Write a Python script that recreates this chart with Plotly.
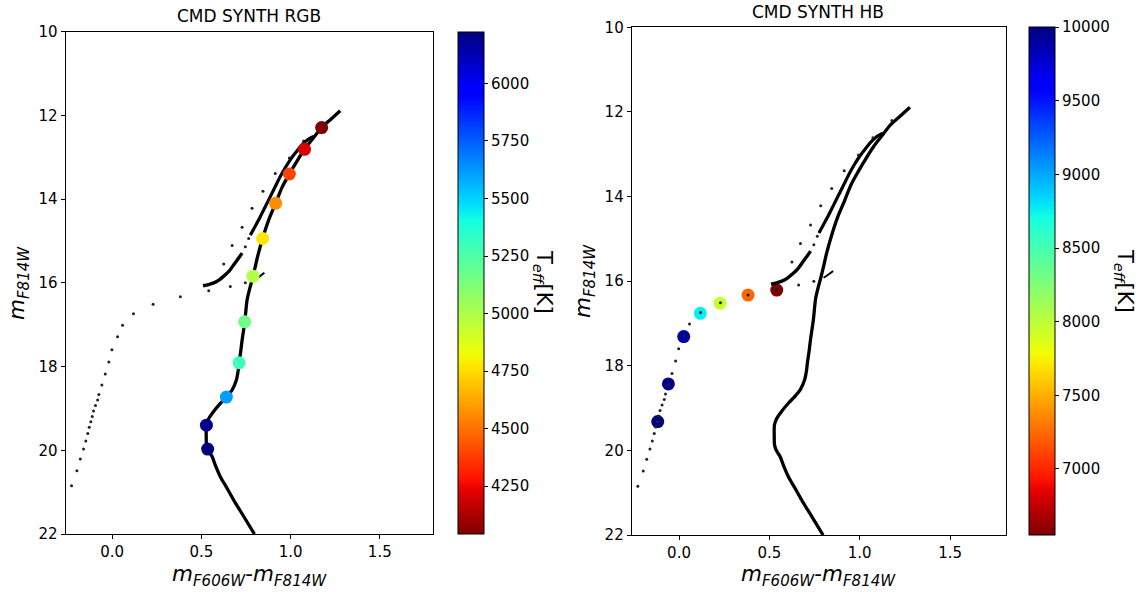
import numpy as np
import plotly.graph_objects as go

W, H = 1143, 592

# ---------------- data ----------------
# main isochrone (MS -> SGB -> RGB)
iso_x = [0.797, 0.740, 0.681, 0.640, 0.606, 0.580, 0.560, 0.545, 0.535, 0.528, 0.527, 0.528,
         0.540, 0.560, 0.606, 0.640, 0.672, 0.696, 0.706, 0.711, 0.720, 0.728, 0.743, 0.756,
         0.770, 0.784, 0.800, 0.815, 0.843, 0.877, 0.916, 0.952, 0.993, 1.036, 1.078, 1.125,
         1.174, 1.226, 1.278]
iso_y = [22.0, 21.6, 21.19, 20.88, 20.63, 20.38, 20.15, 20.05, 19.97, 19.85, 19.68, 19.40,
         19.25, 19.12, 18.88, 18.73, 18.56, 18.32, 18.10, 17.91, 17.65, 17.37, 16.93, 16.41,
         16.15, 15.93, 15.65, 15.37, 14.94, 14.50, 14.10, 13.72, 13.40, 13.09, 12.81, 12.55,
         12.29, 12.09, 11.89]
# lower HB/AGB branch
agb_lo_x = [0.509, 0.540, 0.569, 0.600, 0.625, 0.655, 0.681, 0.705, 0.728]
agb_lo_y = [16.07, 16.04, 16.00, 15.93, 15.84, 15.72, 15.57, 15.43, 15.29]
# upper AGB branch
agb_hi_x = [0.774, 0.800, 0.830, 0.858, 0.886, 0.914, 0.942, 0.970, 0.998, 1.030, 1.060, 1.095, 1.128]
agb_hi_y = [14.86, 14.66, 14.42, 14.18, 13.94, 13.70, 13.46, 13.25, 13.06, 12.88, 12.72, 12.58, 12.50]
# small spur
spur_x = [0.800, 0.825, 0.853]
spur_y = [15.92, 15.85, 15.76]
# sparse AGB dots
agbdot_x = [0.662, 0.746, 0.625, 0.672, 0.728, 0.746, 0.765, 0.784, 0.845, 0.914, 0.993, 1.073, 1.178]
agbdot_y = [16.09, 16.00, 15.55, 15.11, 14.67, 15.14, 14.94, 14.22, 13.81, 13.39, 13.02, 12.61, 12.20]
# sparse HB dots
hbdot_x = [0.541, 0.382, 0.229, 0.119, 0.058, 0.030, -0.002, -0.019, -0.039, -0.058, -0.075,
           -0.082, -0.094, -0.105, -0.112, -0.120, -0.129, -0.137, -0.148, -0.161, -0.179,
           -0.198, -0.228]
hbdot_y = [16.19, 16.33, 16.51, 16.74, 17.01, 17.29, 17.60, 17.89, 18.18, 18.44, 18.67,
           18.80, 18.93, 19.06, 19.19, 19.32, 19.45, 19.60, 19.78, 19.97, 20.21, 20.49, 20.85]
# RGB synthetic stars
rgb_x = [1.174, 1.078, 0.993, 0.916, 0.843, 0.789, 0.743, 0.711, 0.640, 0.528, 0.535]
rgb_y = [12.29, 12.81, 13.40, 14.10, 14.94, 15.84, 16.93, 17.91, 18.73, 19.40, 19.97]
rgb_teff = [4043, 4217, 4398, 4566, 4769, 4987, 5170, 5299, 5613, 6190, 6224]
# HB synthetic stars
hb_x = [0.541, 0.382, 0.227, 0.118, 0.026, -0.059, -0.118]
hb_y = [16.21, 16.33, 16.52, 16.76, 17.31, 18.43, 19.32]
hb_teff = [6550, 7233, 7958, 8758, 9900, 9960, 10000]

xticks = [0.0, 0.5, 1.0, 1.5]
yticks = [10, 12, 14, 16, 18, 20, 22]

# ---------------- matplotlib "jet_r" colorscale ----------------
_r = ([0, 0.35, 0.66, 0.89, 1], [0, 0, 1, 1, 0.5])
_g = ([0, 0.125, 0.375, 0.64, 0.91, 1], [0, 0, 1, 1, 0, 0])
_b = ([0, 0.11, 0.34, 0.65, 1], [0.5, 1, 1, 0, 0])
jet_r = []
for t in np.linspace(0, 1, 65):
    s = 1 - t
    r = np.interp(s, *_r); g = np.interp(s, *_g); b = np.interp(s, *_b)
    jet_r.append([float(t), f"rgb({int(r*255)},{int(g*255)},{int(b*255)})"])

FONT = "DejaVu Sans"
TICK = 15

def px(v):
    return v / W

def py(v):
    return 1 - v / H

fig = go.Figure()

def lines(xa, ya):
    for xs, ys, w in [(iso_x, iso_y, 3.3), (agb_lo_x, agb_lo_y, 3.4),
                      (agb_hi_x, agb_hi_y, 3.2), (spur_x, spur_y, 2)]:
        fig.add_trace(go.Scatter(x=xs, y=ys, mode="lines", xaxis=xa, yaxis=ya,
                                 line=dict(color="black", width=w, shape="spline", smoothing=0.8),
                                 showlegend=False, hoverinfo="skip"))

def dots(xa, ya):
    fig.add_trace(go.Scatter(x=hbdot_x + agbdot_x, y=hbdot_y + agbdot_y, mode="markers",
                             xaxis=xa, yaxis=ya,
                             marker=dict(color="#222222", size=3, line=dict(width=0)),
                             showlegend=False, hoverinfo="skip"))

def stars(xa, ya, xs, ys, cs, cb):
    fig.add_trace(go.Scatter(x=xs, y=ys, mode="markers", xaxis=xa, yaxis=ya,
                             marker=dict(color=cs, colorscale=jet_r, cmin=min(cs), cmax=max(cs),
                                         size=13, line=dict(width=0), showscale=True,
                                         colorbar=cb),
                             showlegend=False))

cb_common = dict(xanchor="left", yanchor="middle", lenmode="pixels", thicknessmode="pixels",
                 xpad=0, ypad=0, outlinewidth=1, outlinecolor="black", ticks="outside",
                 ticklen=4, tickcolor="black", tickformat="d",
                 tickfont=dict(size=TICK, family=FONT, color="black"))

cb1 = dict(cb_common, x=px(457.7), y=py((31.7 + 534) / 2), len=534 - 31.7, thickness=25.6,
           tick0=4250, dtick=250)
cb2 = dict(cb_common, x=px(1029.3), y=py((27.3 + 535) / 2), len=535 - 27.3, thickness=25.7,
           tick0=7000, dtick=500)

# left panel: dots, lines, stars on top
dots("x", "y")
lines("x", "y")
stars("x", "y", rgb_x, rgb_y, rgb_teff, cb1)
# right panel: stars, then lines and dots on top
stars("x2", "y2", hb_x, hb_y, hb_teff, cb2)
lines("x2", "y2")
dots("x2", "y2")

ax_common = dict(showgrid=False, zeroline=False, showline=True, mirror=True, linecolor="black",
                 linewidth=1, ticks="outside", ticklen=4, tickcolor="black", automargin=False,
                 tickfont=dict(size=TICK, family=FONT, color="black"))

fig.update_layout(
    width=W, height=H, margin=dict(l=0, r=0, t=0, b=0, autoexpand=False),
    paper_bgcolor="white", plot_bgcolor="white",
    xaxis=dict(ax_common, domain=[px(65.5), px(433.3)], range=[-0.262, 1.80],
               tickvals=xticks, ticktext=[f"{v:.1f}" for v in xticks], anchor="y"),
    yaxis=dict(ax_common, domain=[py(534), py(31.7)], range=[22, 10],
               tickvals=yticks, anchor="x"),
    xaxis2=dict(ax_common, domain=[px(631.7), px(1005.7)], range=[-0.262, 1.808],
                tickvals=xticks, ticktext=[f"{v:.1f}" for v in xticks], anchor="y2"),
    yaxis2=dict(ax_common, domain=[py(535), py(27.3)], range=[22, 10],
                tickvals=yticks, anchor="x2"),
)

xlab = "<i>m</i><sub><i>F606W</i></sub>-<i>m</i><sub><i>F814W</i></sub>"
ylab = "<i>m</i><sub><i>F814W</i></sub>"
clab = "T<sub><i>eff</i></sub>[K]"

ann = [
    dict(text="CMD SYNTH RGB", x=px(249), y=py(16), size=17, angle=0),
    dict(text="CMD SYNTH HB", x=px(818), y=py(12), size=17, angle=0),
    dict(text=xlab, x=px(249), y=py(575), size=21.5, angle=0),
    dict(text=xlab, x=px(818), y=py(575), size=21.5, angle=0),
    dict(text=ylab, x=px(18), y=py(283), size=21.5, angle=-90),
    dict(text=ylab, x=px(584), y=py(281), size=21.5, angle=-90),
    dict(text=clab, x=px(543), y=py(282), size=21, angle=90),
    dict(text=clab, x=px(1124), y=py(281), size=21, angle=90),
]
for a in ann:
    fig.add_annotation(text=a["text"], x=a["x"], y=a["y"], xref="paper", yref="paper",
                       xanchor="center", yanchor="middle", showarrow=False,
                       textangle=a["angle"],
                       font=dict(size=a["size"], family=FONT, color="black"))

fig.write_html("out.html")
